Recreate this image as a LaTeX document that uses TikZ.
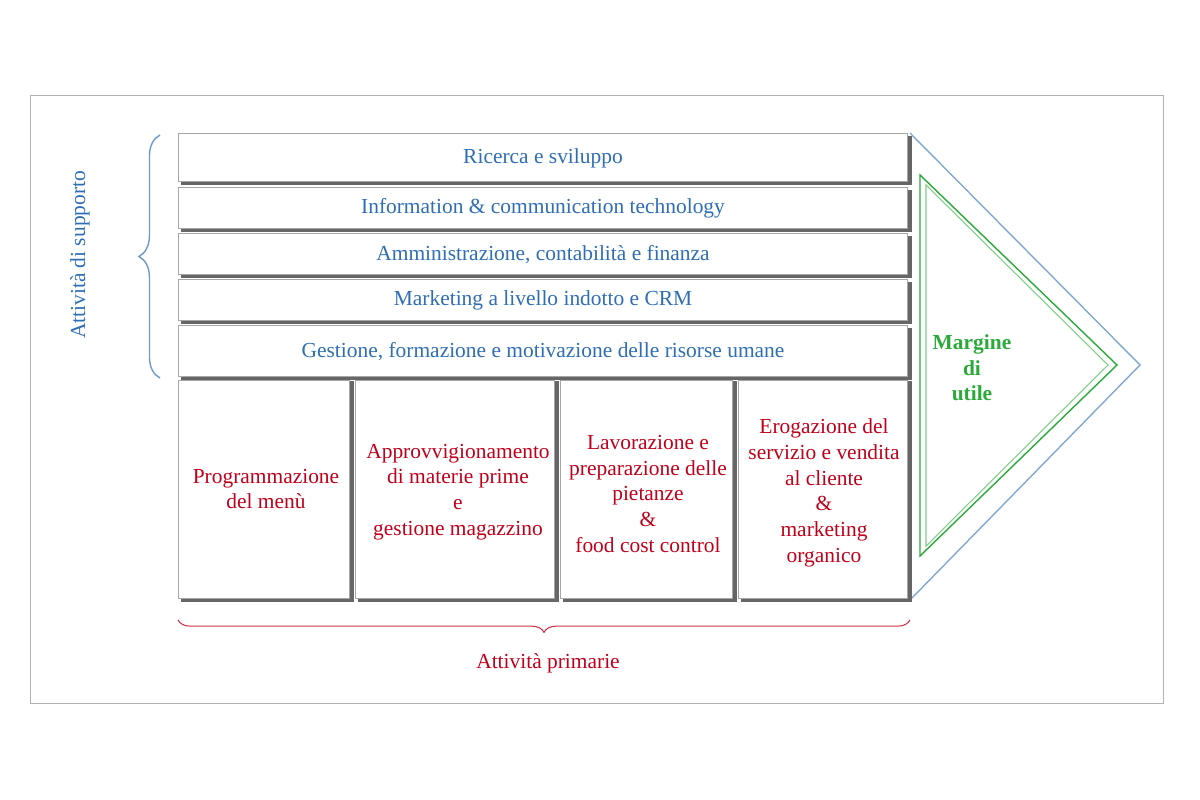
\documentclass[tikz,border=0pt]{standalone}
\usepackage{fontspec}
\setmainfont{Liberation Serif}
\usetikzlibrary{decorations.pathreplacing}
\definecolor{tblue}{HTML}{2E6EB5}
\definecolor{tred}{HTML}{C0001A}
\definecolor{tgreen}{HTML}{2BAA3A}
\tikzset{
 bar/.style={draw=gray!70, fill=white, line width=0.5pt},
 shad/.style={draw=gray!80!black, line width=2.5pt},
 sup/.style={text=tblue, font=\fontsize{12.2}{14}\selectfont},
 pri/.style={text=tred, font=\fontsize{12.2}{14.6}\selectfont, align=center},
}
\begin{document}
\begin{tikzpicture}[x=0.02cm,y=-0.02cm]
\useasboundingbox (0,0) rectangle (1200,800);
\draw[gray!60] (30,95) rectangle (1163,703);
% arrow
\coordinate (a1) at (910,133); \coordinate (a2) at (1140,365); \coordinate (a3) at (910,600);
\draw[tblue!60, line width=0.8pt] (a1) -- (a2) -- (a3);
\draw[tgreen, line width=0.8pt] (920,175) -- (1117,365) -- (920,556) -- cycle;
\draw[tgreen!60, line width=0.6pt] (926,185) -- (1108,365) -- (926,546) -- cycle;
\node[text=tgreen, font=\bfseries\fontsize{12.2}{14.6}\selectfont, align=center] (mu) at (972,368) {Margine\\di\\utile};
% support bars
\foreach \t/\b/\n/\s in {133/183/r1/{Ricerca e sviluppo},187/230/r2/{Information \& communication technology},233/276/r3/{Amministrazione, contabilità e finanza},279/322/r4/{Marketing a livello indotto e CRM},325/378/r5/{Gestione, formazione e motivazione delle risorse umane}}{
 \draw[shad] (181,\b) -- (910,\b) -- (910,\t+3);
 \draw[bar] (178,\t) rectangle (907,\b-2);
 \node[sup] (\n) at (543,{(\t+\b)/2}) {\s};
}
% primary boxes
\foreach \l/\r in {178/352,355/557,560/735,738/910}{
 \draw[shad] (\l+3,600) -- (\r,600) -- (\r,381);
 \draw[bar] (\l,380) rectangle (\r-3,598);
}
\node[pri] (p1) at (266,489) {Programmazione\\del menù};
\node[pri] (p2) at (458,492) {Approvvigionamento\\di materie prime\\e\\gestione magazzino};
\node[pri] (p3) at (648,494) {Lavorazione e\\preparazione delle\\pietanze\\\&\\food cost control};
\node[pri] (p4) at (824,493) {Erogazione del\\servizio e vendita\\al cliente\\\&\\marketing\\organico};
% braces
\draw[tblue!70, line width=0.8pt, decorate, decoration={brace, amplitude=12pt}] (160,378) -- (160,135);
\node[sup, rotate=90] (ls) at (80,255) {Attività di supporto};
\draw[tred!80, line width=0.6pt, decorate, decoration={brace, amplitude=7pt, mirror}] (178,620) -- (910,620);
\node[pri] (lp) at (548,663) {Attività primarie};
\end{tikzpicture}
\end{document}
